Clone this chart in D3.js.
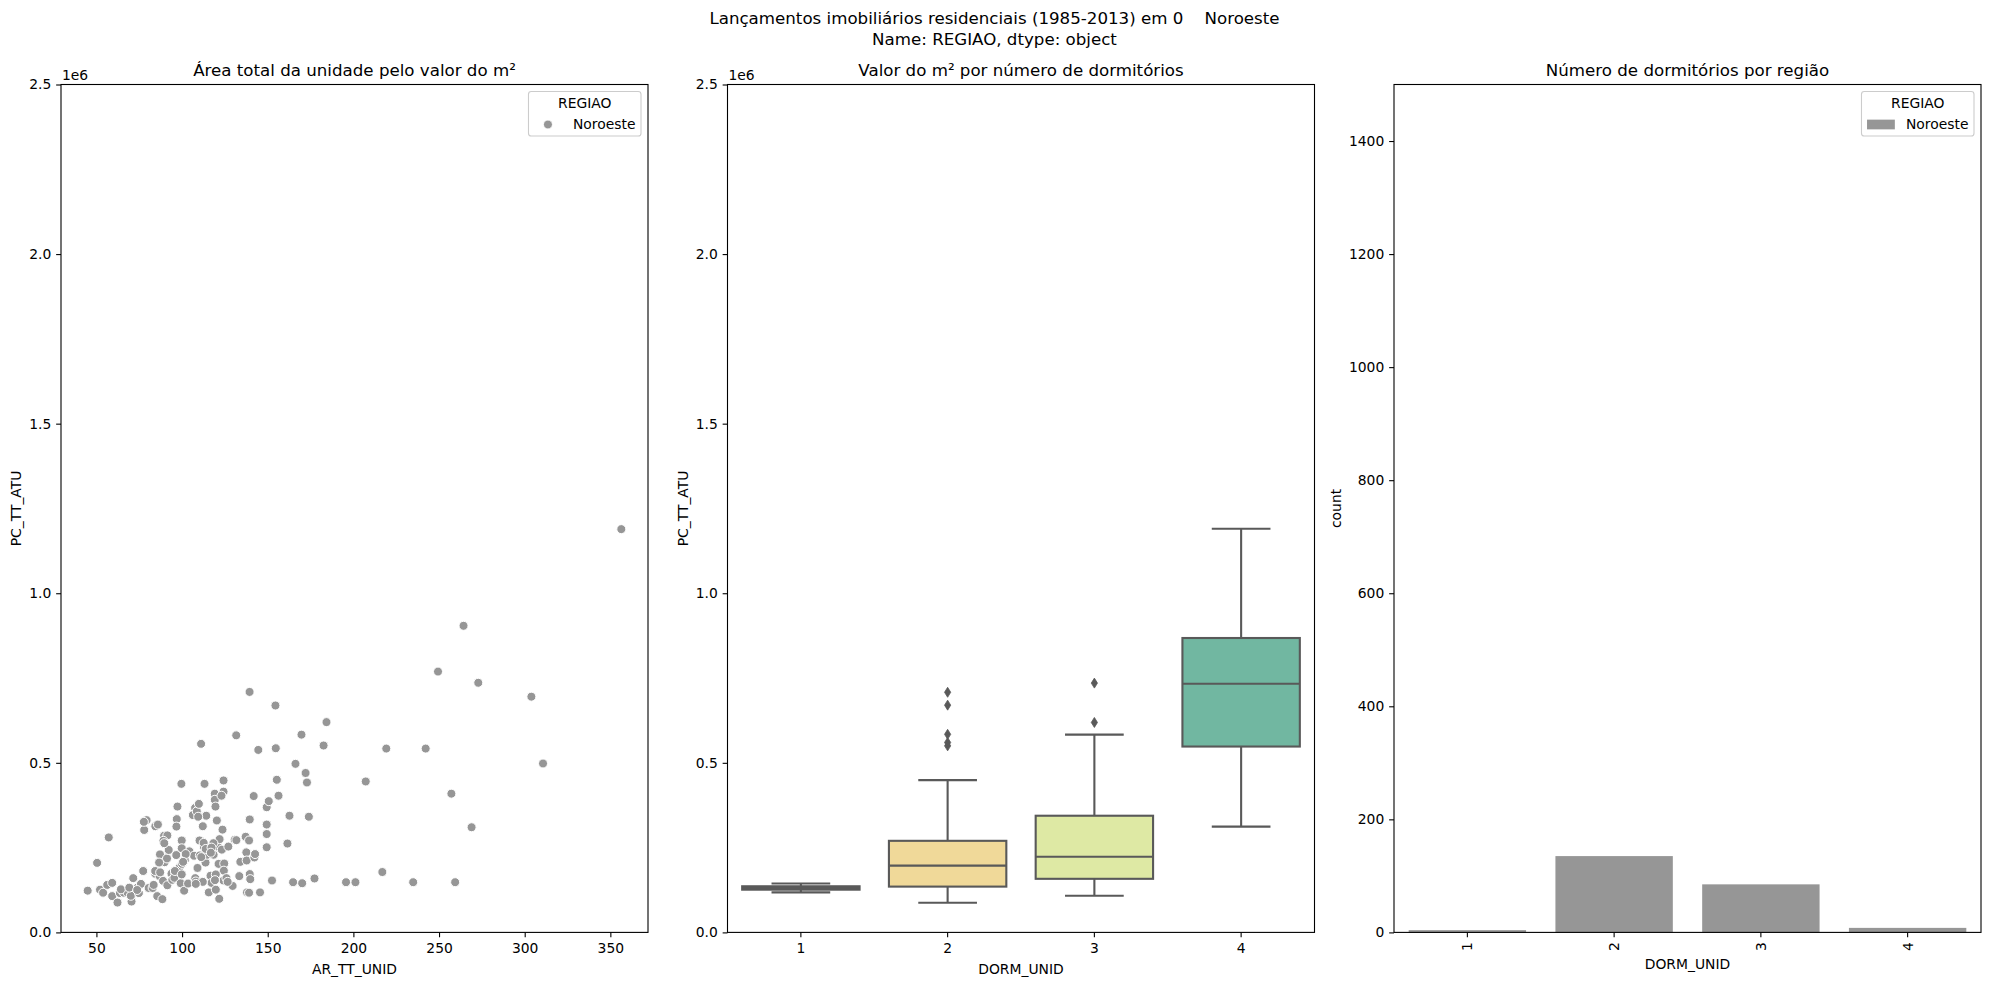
<!DOCTYPE html>
<html><head><meta charset="utf-8">
<script src="https://cdn.jsdelivr.net/npm/d3@7"></script>
<style>
body{margin:0;background:#fff;}
text{font-family:"DejaVu Sans",sans-serif;fill:#000;}
</style></head><body>
<svg id="c" width="1989" height="985" xmlns="http://www.w3.org/2000/svg"></svg>
<script>
// ---------------- DATA ----------------
const suptitleLines = ["Lançamentos imobiliários residenciais (1985-2013) em 0    Noroeste", "Name: REGIAO, dtype: object"];
const panelTitles = ["Área total da unidade pelo valor do m²", "Valor do m² por número de dormitórios", "Número de dormitórios por região"];
const regionName = "Noroeste";

// scatter: AR_TT_UNID vs PC_TT_ATU
const areaTotal = [
44.9,52.1,53.9,56.3,59.2,59.2,62.3,63.7,66.0,68.2,70.5,70.1,71.5,74.2,74.8,76.0,77.3,77.9,79.3,77.7,
80.5,82.8,84.4,84.4,85.5,85.9,86.9,87.1,88.5,88.9,89.5,91.4,89.1,89.8,91.2,91.4,92.2,93.8,94.3,95.9,
95.5,96.9,97.3,96.7,98.6,99.8,99.6,99.8,100.0,99.2,101.2,101.6,103.5,104.3,106.3,107.0,107.6,108.6,109.0,109.8,
110.2,110.4,111.1,112.1,113.1,112.7,113.7,114.1,114.6,115.6,116.6,117.2,118.0,118.4,119.1,119.1,119.5,120.3,120.9,121.3,
121.7,121.9,123.2,123.6,124.2,124.2,124.2,124.6,124.4,127.0,129.5,130.7,131.6,133.4,134.0,137.1,137.5,137.7,137.9,139.1,
139.5,139.5,139.8,141.8,142.2,142.6,144.5,145.5,149.4,149.4,149.4,149.4,150.6,152.5,154.5,154.7,155.3,156.3,161.5,162.7,
164.8,166.2,169.7,170.1,172.1,172.9,174.0,177.3,182.6,184.3,195.7,201.2,207.2,
356.4,264.3,249.4,272.9,303.9,139.4,219.2,242.2,310.7,257.2,269.0,216.9,234.9,259.4,
123.0,109.4,131.7,139.1,89.6,118.3,112.6,113.8,117.2,102.1,116.8,111.2,96.6,100.6,86.6,84.3,87.2,95.8,99.8,119.7,
125.9,107.7,83.4,108.0,112.1,119.2,126.6,64.3,69.2,73.8,108.0,119.7,
50.4,57.2
];
const priceTotal = [
123000,126000,117000,140000,146000,107000,88000,116000,117000,117000,91000,108000,160000,133000,116000,143000,181000,302000,331000,326000,
131000,131000,173000,313000,107000,318000,166000,230000,98000,152000,285000,286000,270000,207000,218000,139000,243000,173000,155000,177000,
161000,334000,371000,312000,192000,271000,438000,248000,202000,145000,123000,213000,144000,239000,346000,226000,367000,357000,190000,379000,
271000,227000,556000,313000,438000,252000,206000,344000,229000,118000,167000,146000,257000,229000,409000,391000,371000,330000,253000,202000,
99000,275000,244000,303000,448000,415000,153000,203000,182000,253000,137000,273000,581000,166000,208000,282000,236000,212000,118000,117000,
333000,172000,157000,402000,221000,231000,538000,118000,251000,290000,318000,369000,387000,153000,669000,543000,450000,403000,262000,344000,
148000,497000,583000,145000,470000,442000,341000,159000,551000,620000,148000,148000,445000,
1189000,904000,769000,736000,695000,709000,542000,542000,498000,409000,310000,178000,148000,148000,
403000,341000,272000,271000,263000,263000,264000,246000,250000,231000,235000,222000,228000,208000,206000,181000,177000,181000,171000,171000,
160000,160000,140000,150000,149000,154000,149000,127000,132000,125000,143000,126000,
205000,280000
];

// box plot: PC_TT_ATU by DORM_UNID
const dormCategories = ["1", "2", "3", "4"];
const boxQ1 = [126000, 135000, 158000, 548000];
const boxMedian = [131000, 197000, 223000, 733000];
const boxQ3 = [136000, 270000, 344000, 868000];
const whiskerLow = [118000, 87500, 108000, 312000];
const whiskerHigh = [144000, 449000, 583000, 1190000];
const boxOutliers = [[], [708000, 670000, 584000, 560000, 550000], [735000, 619000], []];

// count plot
const dormCounts = [4, 135, 85, 8];

// ticks
const priceTicks = [0, 500000, 1000000, 1500000, 2000000, 2500000];
const areaTicks = [50, 100, 150, 200, 250, 300, 350];
const countTicks = [0, 200, 400, 600, 800, 1000, 1200, 1400];

// ---------------- LAYOUT / STYLE ----------------
const FS = 13.89, TFS = 16.67;
const axW = 587, axTop = 84.5, axBot = 932.4;
const lefts = [61, 727.5, 1394];
const gray = "#969696", lineGray = "#595959";
const boxFill = ["#e9a982", "#f0d999", "#dee9a4", "#71b7a1"];
const TL = 4.86, TP = 4.86;
const PR = 4.5;

const svg = d3.select("#c");
svg.append("rect").attr("width", 1989).attr("height", 985).attr("fill", "#fff");

// suptitle
suptitleLines.forEach((t, i) => {
  svg.append("text").attr("x", 994.5).attr("y", 23.5 + i * 21)
    .attr("text-anchor", "middle").attr("font-size", TFS)
    .attr("xml:space", "preserve").style("white-space", "pre").text(t);
});

function styleAxis(g) {
  g.select(".domain").remove();
  g.selectAll(".tick line").attr("stroke", "#000").attr("stroke-width", 1.1);
  g.selectAll(".tick text").attr("font-size", FS).attr("font-family", "DejaVu Sans, sans-serif").attr("fill", "#000");
  g.attr("font-family", null).attr("font-size", null);
}
function panelFrame(i) {
  svg.append("rect").attr("x", lefts[i]).attr("y", axTop).attr("width", axW).attr("height", axBot - axTop)
    .attr("fill", "none").attr("stroke", "#000").attr("stroke-width", 1.1);
  svg.append("text").attr("x", lefts[i] + axW / 2).attr("y", axTop - 8.3)
    .attr("text-anchor", "middle").attr("font-size", TFS).text(panelTitles[i]);
}
function yLabel(x, t) {
  svg.append("text").attr("transform", `translate(${x},${(axTop + axBot) / 2}) rotate(-90)`)
    .attr("text-anchor", "middle").attr("dy", "0.35em").attr("font-size", FS).text(t);
}
function xLabel(i, y, t) {
  svg.append("text").attr("x", lefts[i] + axW / 2).attr("y", y)
    .attr("text-anchor", "middle").attr("font-size", FS).text(t);
}
function legend(i, kind) {
  const right = lefts[i] + axW - 7, ltop = axTop + 7;
  const g = svg.append("g");
  const box = g.append("rect");
  const tt = g.append("text").attr("font-size", FS).attr("text-anchor", "middle").text("REGIAO");
  const lt = g.append("text").attr("font-size", FS).text(regionName);
  const tw = lt.node().getComputedTextLength();
  const ttw = tt.node().getComputedTextLength();
  const bp = 5.56, hl = 27.8, htp = 11.1;
  const w = Math.max(bp * 2 + hl + htp + tw, ttw + bp * 2);
  const h = 44.5;
  const left = right - w;
  box.attr("x", left).attr("y", ltop).attr("width", w).attr("height", h).attr("rx", 2.8)
    .attr("fill", "#fff").attr("fill-opacity", 0.8).attr("stroke", "#cccccc").attr("stroke-width", 1.1);
  tt.attr("x", left + w / 2).attr("y", ltop + 11.5).attr("dy", "0.35em");
  const ey = ltop + 33;
  lt.attr("x", left + bp + hl + htp).attr("y", ey).attr("dy", "0.35em");
  if (kind === "circle") {
    g.append("circle").attr("cx", left + bp + hl / 2).attr("cy", ey).attr("r", PR)
      .attr("fill", gray).attr("stroke", "#fff").attr("stroke-width", 1);
  } else {
    g.append("rect").attr("x", left + bp).attr("y", ey - 4.86).attr("width", hl).attr("height", 9.72).attr("fill", gray);
  }
}

// ---------- Panel 1: scatter ----------
{
  const L = lefts[0];
  const xmin = d3.min(areaTotal), xmax = d3.max(areaTotal), m = (xmax - xmin) * 0.05;
  const x = d3.scaleLinear().domain([xmin - m, xmax + m]).range([L, L + axW]);
  const y = d3.scaleLinear().domain([0, 2500000]).range([axBot, axTop]);
  const g = svg.append("g");
  g.selectAll("circle").data(areaTotal.map((a, k) => [a, priceTotal[k]])).join("circle")
    .attr("cx", d => x(d[0])).attr("cy", d => y(d[1])).attr("r", PR)
    .attr("fill", gray).attr("stroke", "#fff").attr("stroke-width", 1);
  const ya = svg.append("g").attr("transform", `translate(${L},0)`)
    .call(d3.axisLeft(y).tickValues(priceTicks).tickSize(TL).tickPadding(TP).tickFormat(v => (v / 1e6).toFixed(1)));
  styleAxis(ya);
  const xa = svg.append("g").attr("transform", `translate(0,${axBot})`)
    .call(d3.axisBottom(x).tickValues(areaTicks).tickSize(TL).tickPadding(6).tickFormat(d3.format("d")));
  styleAxis(xa);
  panelFrame(0);
  svg.append("text").attr("x", L + 1).attr("y", axTop - 5).attr("font-size", FS).text("1e6");
  yLabel(16.5, "PC_TT_ATU");
  xLabel(0, 974, "AR_TT_UNID");
  legend(0, "circle");
}

// ---------- Panel 2: box plot ----------
{
  const L = lefts[1];
  const x = d3.scaleBand().domain(dormCategories).range([L, L + axW]).paddingInner(0.2).paddingOuter(0.1);
  const y = d3.scaleLinear().domain([0, 2500000]).range([axBot, axTop]);
  const bw = x.bandwidth();
  const g = svg.append("g");
  dormCategories.forEach((c, i) => {
    const cx = x(c) + bw / 2;
    const lw = 2.1;
    g.append("line").attr("x1", cx).attr("x2", cx).attr("y1", y(boxQ1[i])).attr("y2", y(whiskerLow[i]))
      .attr("stroke", lineGray).attr("stroke-width", lw);
    g.append("line").attr("x1", cx).attr("x2", cx).attr("y1", y(boxQ3[i])).attr("y2", y(whiskerHigh[i]))
      .attr("stroke", lineGray).attr("stroke-width", lw);
    [whiskerLow[i], whiskerHigh[i]].forEach(v => {
      g.append("line").attr("x1", cx - bw / 4).attr("x2", cx + bw / 4).attr("y1", y(v)).attr("y2", y(v))
        .attr("stroke", lineGray).attr("stroke-width", lw);
    });
    g.append("rect").attr("x", x(c)).attr("width", bw).attr("y", y(boxQ3[i])).attr("height", y(boxQ1[i]) - y(boxQ3[i]))
      .attr("fill", boxFill[i]).attr("stroke", lineGray).attr("stroke-width", lw);
    g.append("line").attr("x1", x(c)).attr("x2", x(c) + bw).attr("y1", y(boxMedian[i])).attr("y2", y(boxMedian[i]))
      .attr("stroke", lineGray).attr("stroke-width", lw);
    boxOutliers[i].forEach(v => {
      const yy = y(v);
      g.append("path").attr("d", `M${cx},${yy - 5} L${cx + 3.1},${yy} L${cx},${yy + 5} L${cx - 3.1},${yy} Z`)
        .attr("fill", lineGray).attr("stroke", lineGray).attr("stroke-width", 0.8);
    });
  });
  const ya = svg.append("g").attr("transform", `translate(${L},0)`)
    .call(d3.axisLeft(y).tickValues(priceTicks).tickSize(TL).tickPadding(TP).tickFormat(v => (v / 1e6).toFixed(1)));
  styleAxis(ya);
  const xa = svg.append("g").attr("transform", `translate(0,${axBot})`)
    .call(d3.axisBottom(x).tickSize(TL).tickPadding(6));
  styleAxis(xa);
  panelFrame(1);
  svg.append("text").attr("x", L + 1).attr("y", axTop - 5).attr("font-size", FS).text("1e6");
  yLabel(L - 44.5, "PC_TT_ATU");
  xLabel(1, 974, "DORM_UNID");
}

// ---------- Panel 3: count plot ----------
{
  const L = lefts[2];
  const x = d3.scaleBand().domain(dormCategories).range([L, L + axW]).paddingInner(0.2).paddingOuter(0.1);
  const y = d3.scaleLinear().domain([0, 1500]).range([axBot, axTop]);
  svg.append("g").selectAll("rect").data(dormCounts).join("rect")
    .attr("x", (d, i) => x(dormCategories[i])).attr("width", x.bandwidth())
    .attr("y", d => y(d)).attr("height", d => axBot - y(d)).attr("fill", gray);
  const ya = svg.append("g").attr("transform", `translate(${L},0)`)
    .call(d3.axisLeft(y).tickValues(countTicks).tickSize(TL).tickPadding(TP).tickFormat(d3.format("d")));
  styleAxis(ya);
  const xa = svg.append("g").attr("transform", `translate(0,${axBot})`)
    .call(d3.axisBottom(x).tickSize(TL).tickPadding(TP));
  styleAxis(xa);
  xa.selectAll(".tick text").attr("transform", `translate(0,${TL + TP}) rotate(-90)`)
    .attr("y", 0).attr("x", 0).attr("dy", "0.35em").attr("text-anchor", "end");
  panelFrame(2);
  yLabel(L - 58, "count");
  xLabel(2, 969, "DORM_UNID");
  legend(2, "rect");
}
</script>
</body></html>
